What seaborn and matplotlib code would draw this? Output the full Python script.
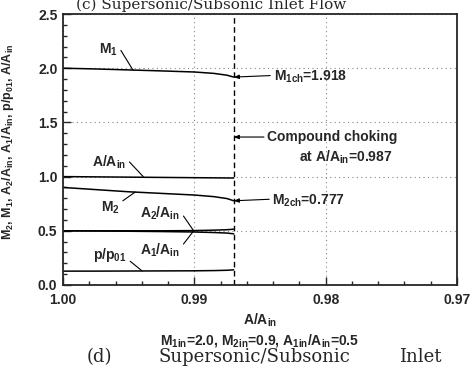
import matplotlib
matplotlib.use("Agg")
import matplotlib.pyplot as plt
import seaborn as sns
import numpy as np
import pandas as pd

# ---- data ----
area_ratio = [1.000, 0.9975, 0.995, 0.9925, 0.990, 0.9885, 0.9875, 0.987]
M1 = [2.000, 1.993, 1.984, 1.975, 1.965, 1.952, 1.935, 1.918]
M2 = [0.900, 0.880, 0.860, 0.845, 0.830, 0.815, 0.797, 0.777]
A_Ain = [1.000, 0.9975, 0.995, 0.9925, 0.990, 0.9885, 0.9875, 0.987]
A1_Ain = [0.500, 0.498, 0.496, 0.493, 0.489, 0.484, 0.479, 0.472]
A2_Ain = [0.500, 0.500, 0.500, 0.500, 0.502, 0.506, 0.510, 0.515]
p_p01 = [0.128, 0.128, 0.129, 0.130, 0.131, 0.133, 0.136, 0.140]
choke_area = 0.987
M1_choke = 1.918
M2_choke = 0.777
x_ticks = [1.00, 0.99, 0.98, 0.97]
x_ticklabels = ["1.00", "0.99", "0.98", "0.97"]
y_ticks = [0.0, 0.5, 1.0, 1.5, 2.0, 2.5]

sns.set_style("ticks")
plt.rcParams["font.family"] = ["Liberation Sans", "DejaVu Sans"]
plt.rcParams["mathtext.fontset"] = "custom"
plt.rcParams["mathtext.rm"] = "Liberation Sans:bold"
plt.rcParams["mathtext.bf"] = "Liberation Sans:bold"
plt.rcParams["mathtext.it"] = "Liberation Sans:bold"
plt.rcParams["mathtext.default"] = "bf"

fig = plt.figure(figsize=(4.71, 3.75), dpi=100)
ax = fig.add_axes([63 / 471, 90 / 375, 394 / 471, 271 / 375])

df = pd.DataFrame({"A": area_ratio, "M1": M1, "M2": M2, "AA": A_Ain,
                   "A1": A1_Ain, "A2": A2_Ain, "p": p_p01})
for col in ["M1", "M2", "AA", "A1", "A2", "p"]:
    sns.lineplot(data=df, x="A", y=col, ax=ax, color="black", lw=1.1,
                 sort=False, legend=False)

ax.axvline(choke_area, color="black", ls=(0, (4, 2.5)), lw=1.0)

ax.set_xlim(1.00, 0.97)
ax.set_ylim(0, 2.5)
ax.set_xticks(x_ticks)
ax.set_xticklabels(x_ticklabels)
ax.set_yticks(y_ticks)
ax.set_yticklabels([f"{v:.1f}" for v in y_ticks])
ax.xaxis.set_minor_locator(matplotlib.ticker.MultipleLocator(0.002))
ax.yaxis.set_minor_locator(matplotlib.ticker.MultipleLocator(0.1))
ax.tick_params(which="both", direction="in", labelsize=10, width=1)
ax.tick_params(which="major", length=6)
ax.tick_params(which="minor", length=3)
ax.tick_params(axis="x", which="major", pad=6)
ax.tick_params(axis="y", which="major", pad=4)
for lab in ax.get_xticklabels() + ax.get_yticklabels():
    lab.set_fontweight("bold")
for s in ax.spines.values():
    s.set_linewidth(1.3)
    s.set_visible(True)

ax.grid(True, which="major", ls=(0, (1, 3)), color="#888888", lw=0.8)
ax.set_axisbelow(True)

ax.set_xlabel("A/A$_{\\mathbf{in}}$\nM$_{1in}$=2.0, M$_{2in}$=0.9, A$_{1in}$/A$_{in}$=0.5",
              fontsize=10, fontweight="bold", labelpad=3, linespacing=1.25)
ax.set_ylabel("M$_2$, M$_1$, A$_2$/A$_{in}$, A$_1$/A$_{in}$, p/p$_{01}$, A/A$_{in}$",
              fontsize=9, fontweight="bold")
ax.yaxis.set_label_coords(-0.119, 0.528)

lab_kw = dict(fontsize=10, fontweight="bold", ha="center", va="center")
line_kw = dict(arrowstyle="-", lw=0.8, color="black", shrinkA=0, shrinkB=0)
ax.annotate("M$_1$", xy=(0.99466, 1.98), xytext=(0.99656, 2.168),
            arrowprops=dict(relpos=(1, 0.8), **line_kw), **lab_kw)
ax.annotate("A/A$_{in}$", xy=(0.99389, 1.0), xytext=(0.99649, 1.135),
            arrowprops=dict(relpos=(1, 0.7), **line_kw), **lab_kw)
ax.annotate("M$_2$", xy=(0.9945, 0.858), xytext=(0.99641, 0.71),
            arrowprops=dict(relpos=(1, 0.8), **line_kw), **lab_kw)
ax.annotate("A$_2$/A$_{in}$", xy=(0.99008, 0.505), xytext=(0.9926, 0.664),
            arrowprops=dict(relpos=(1, 0.6), **line_kw), **lab_kw)
ax.annotate("A$_1$/A$_{in}$", xy=(0.99008, 0.495), xytext=(0.9926, 0.323),
            arrowprops=dict(relpos=(1, 0.6), **line_kw), **lab_kw)
ax.annotate("p/p$_{01}$", xy=(0.99397, 0.129), xytext=(0.99641, 0.277),
            arrowprops=dict(relpos=(1, 0.3), **line_kw), **lab_kw)

arr_kw = dict(arrowstyle="-|>,head_length=0.3,head_width=0.12", lw=0.8,
              color="black", shrinkA=0, shrinkB=0)
ax.annotate("M$_{1ch}$=" + f"{M1_choke:.3f}", xy=(choke_area, M1_choke),
            xytext=(0.98397, M1_choke), ha="left", va="center",
            fontsize=10, fontweight="bold",
            arrowprops=dict(relpos=(0, 0.6), **arr_kw))
ax.annotate("M$_{2ch}$=" + f"{M2_choke:.3f}", xy=(choke_area, M2_choke),
            xytext=(0.98405, M2_choke), ha="left", va="center",
            fontsize=10, fontweight="bold",
            arrowprops=dict(relpos=(0, 0.6), **arr_kw))
ax.annotate("Compound choking", xy=(choke_area, 1.365),
            xytext=(0.98445, 1.365), ha="left", va="center",
            fontsize=10, fontweight="bold",
            arrowprops=dict(relpos=(0, 0.5), **arr_kw))
ax.text(0.9785, 1.18, "at A/A$_{in}$=" + f"{choke_area:.3f}", ha="center",
        va="center", fontsize=10, fontweight="bold")

serif = ["DejaVu Serif"]
fig.text(211 / 471, 1 - 9 / 375, "(c) Supersonic/Subsonic Inlet Flow",
         family=serif, fontsize=11, ha="center", va="baseline")
fig.text(99 / 471, 1 - 362 / 375, "(d)", family=serif, fontsize=13,
         ha="center", va="baseline")
fig.text(254 / 471, 1 - 362 / 375, "Supersonic/Subsonic", family=serif,
         fontsize=13, ha="center", va="baseline")
fig.text(420 / 471, 1 - 362 / 375, "Inlet", family=serif, fontsize=13,
         ha="center", va="baseline")

fig.savefig("out.png", dpi=100)
